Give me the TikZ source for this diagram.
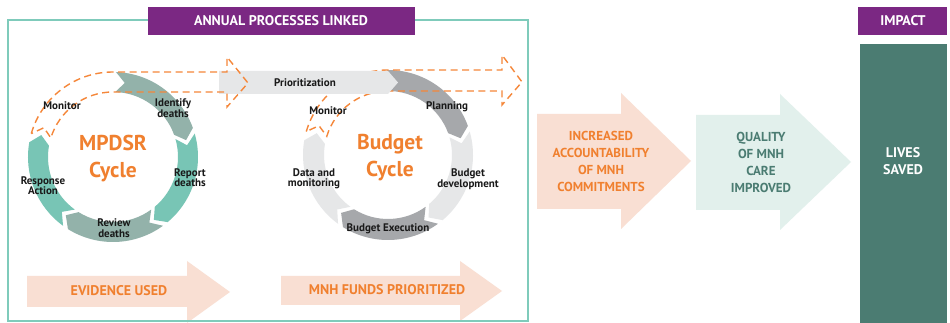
\documentclass[tikz,border=0pt]{standalone}
\usepackage{fontspec}
\setmainfont{PT Sans}
\definecolor{frameteal}{HTML}{7FCBBB}
\definecolor{purp}{HTML}{7B2883}
\definecolor{darkteal}{HTML}{4B7C72}
\definecolor{peach}{HTML}{F9DFD3}
\definecolor{mint}{HTML}{E2F0EC}
\definecolor{orng}{HTML}{F0802F}
\definecolor{segteal}{HTML}{78C5B5}
\definecolor{seggray}{HTML}{93B2AA}
\definecolor{lgray}{HTML}{E6E7E8}
\definecolor{mgray}{HTML}{A6A8AB}
\definecolor{dashor}{HTML}{F5873A}
\newcommand{\ringseg}[7]{% cx cy a b color rin rout
  \fill[#5] ([shift={(#3:#7)}]#1,#2) arc[start angle=#3,end angle=#4,radius=#7]
    -- ([shift={({#4-7}:{(#6+#7)/2})}]#1,#2)
    -- ([shift={(#4:#6)}]#1,#2) arc[start angle=#4,end angle=#3,radius=#6]
    -- ([shift={({#3-7}:{(#6+#7)/2})}]#1,#2) -- cycle;}
\begin{document}
\begin{tikzpicture}[x=1pt,y=1pt,
  lbl/.style={font=\bfseries\fontsize{11}{10.5}\selectfont, align=center, text=black!90, inner sep=0pt},
  ctitle/.style={font=\bfseries\fontsize{21.5}{27}\selectfont, align=center, text=orng, inner sep=0pt},
  bigtxt/.style={font=\bfseries\fontsize{13}{17}\selectfont, align=center, inner sep=0pt},
  bottxt/.style={font=\bfseries\fontsize{14}{17}\selectfont, align=center, inner sep=0pt},
  hdr/.style={font=\bfseries\fontsize{14}{16}\selectfont, text=white, inner sep=0pt},
  dasharrow/.style={draw=dashor, line width=1.4pt, dash pattern=on 7pt off 4.5pt, line join=miter}]
\useasboundingbox (0,0) rectangle (950,323);
\fill[white] (0,0) rectangle (950,323);
% big arrows
\fill[peach] (27,16) -- (187,16) -- (187,0) -- (230,31) -- (187,62) -- (187,47) -- (27,47) -- cycle;
\fill[peach] (281,18) -- (460,18) -- (460,2) -- (502,32) -- (460,62) -- (460,47) -- (281,47) -- cycle;
\fill[peach] (537,114) -- (621,114) -- (621,94) -- (691,162) -- (621,230) -- (621,209) -- (537,209) -- cycle;
\fill[mint] (696,113) -- (780,113) -- (780,93) -- (851,161) -- (780,229) -- (780,208) -- (696,208) -- cycle;
% frame and header
\draw[frameteal, line width=2.5pt] (8,2) rectangle (528,303);
\fill[purp] (148,288) rectangle (415,316);
\node[hdr] (hdrtxt) at (281,302) {ANNUAL PROCESSES LINKED};
\fill[purp] (858,288) rectangle (947,316);
\node[hdr] (imptxt) at (903,302) {IMPACT};
\fill[darkteal] (860,0) rectangle (947,279);
\node[bottxt, text=white] (lives) at (903,162) {LIVES\\SAVED};
% rings
\coordinate (c1) at (113,166);
\coordinate (c2) at (388,168);
\ringseg{113}{166}{88}{20}{seggray}{65}{85}
\ringseg{113}{166}{16}{-50}{segteal}{65}{85}
\ringseg{113}{166}{-54}{-122}{seggray}{65}{85}
\ringseg{113}{166}{-126}{-190}{segteal}{65}{85}
\ringseg{388}{168}{91}{20}{mgray}{64}{85}
\ringseg{388}{168}{16}{-50}{lgray}{64}{85}
\ringseg{388}{168}{-54}{-122}{mgray}{64}{85}
\ringseg{388}{168}{-126}{-190}{lgray}{64}{85}
% dashed arrow 2 (under bar)
\draw[dasharrow] ([shift={(164:85)}]c2) arc[start angle=164,end angle=90,radius=85]
  -- (502,253) -- (502,268) -- (522,241) -- (502,218) -- (502,232) -- (388,232)
  arc[start angle=90,end angle=163,radius=64] -- ([shift={(157:75)}]c2) -- cycle;
% prioritization bar
\fill[lgray] (219,229) -- (388,229) -- (398,240.5) -- (388,252) -- (219,252) -- cycle;
\node[lbl] (prio) at (305,240) {Prioritization};
% dashed arrow 1
\draw[dasharrow] ([shift={(164:85)}]c1) arc[start angle=164,end angle=90,radius=85]
  -- (227,251) -- (227,266) -- (248,240) -- (227,216) -- (227,231) -- (113,231)
  arc[start angle=90,end angle=163,radius=65] -- ([shift={(157:75)}]c1) -- cycle;
% labels
\node[ctitle] (mpdsr) at (113,164.5) {MPDSR\\Cycle};
\node[ctitle] (budget) at (390,165) {Budget\\Cycle};
\node[lbl] (mon1) at (62,217) {Monitor};
\node[lbl] (ident) at (173,215) {Identify\\deaths};
\node[lbl] (report) at (190,145.5) {Report\\deaths};
\node[lbl] (review) at (114,95) {Review\\deaths};
\node[lbl] (resp) at (43,137.5) {Response\\Action};
\node[lbl] (mon2) at (328,212) {Monitor};
\node[lbl] (plan) at (447,216) {Planning};
\node[lbl] (bdev) at (468,144) {Budget\\development};
\node[lbl] (datam) at (314,144) {Data and\\monitoring};
\node[lbl] (bexec) at (388,94) {Budget Execution};
\node[bottxt, text=orng] (evid) at (119,32) {EVIDENCE USED};
\node[bottxt, text=orng] (funds) at (387,33) {MNH FUNDS PRIORITIZED};
\node[bigtxt, text=orng] (accnt) at (601,161.5) {INCREASED\\ACCOUNTABILITY\\OF MNH\\COMMITMENTS};
\node[bigtxt, text=darkteal] (qual) at (761,160.5) {QUALITY\\OF MNH\\CARE\\IMPROVED};
\end{tikzpicture}
\end{document}
